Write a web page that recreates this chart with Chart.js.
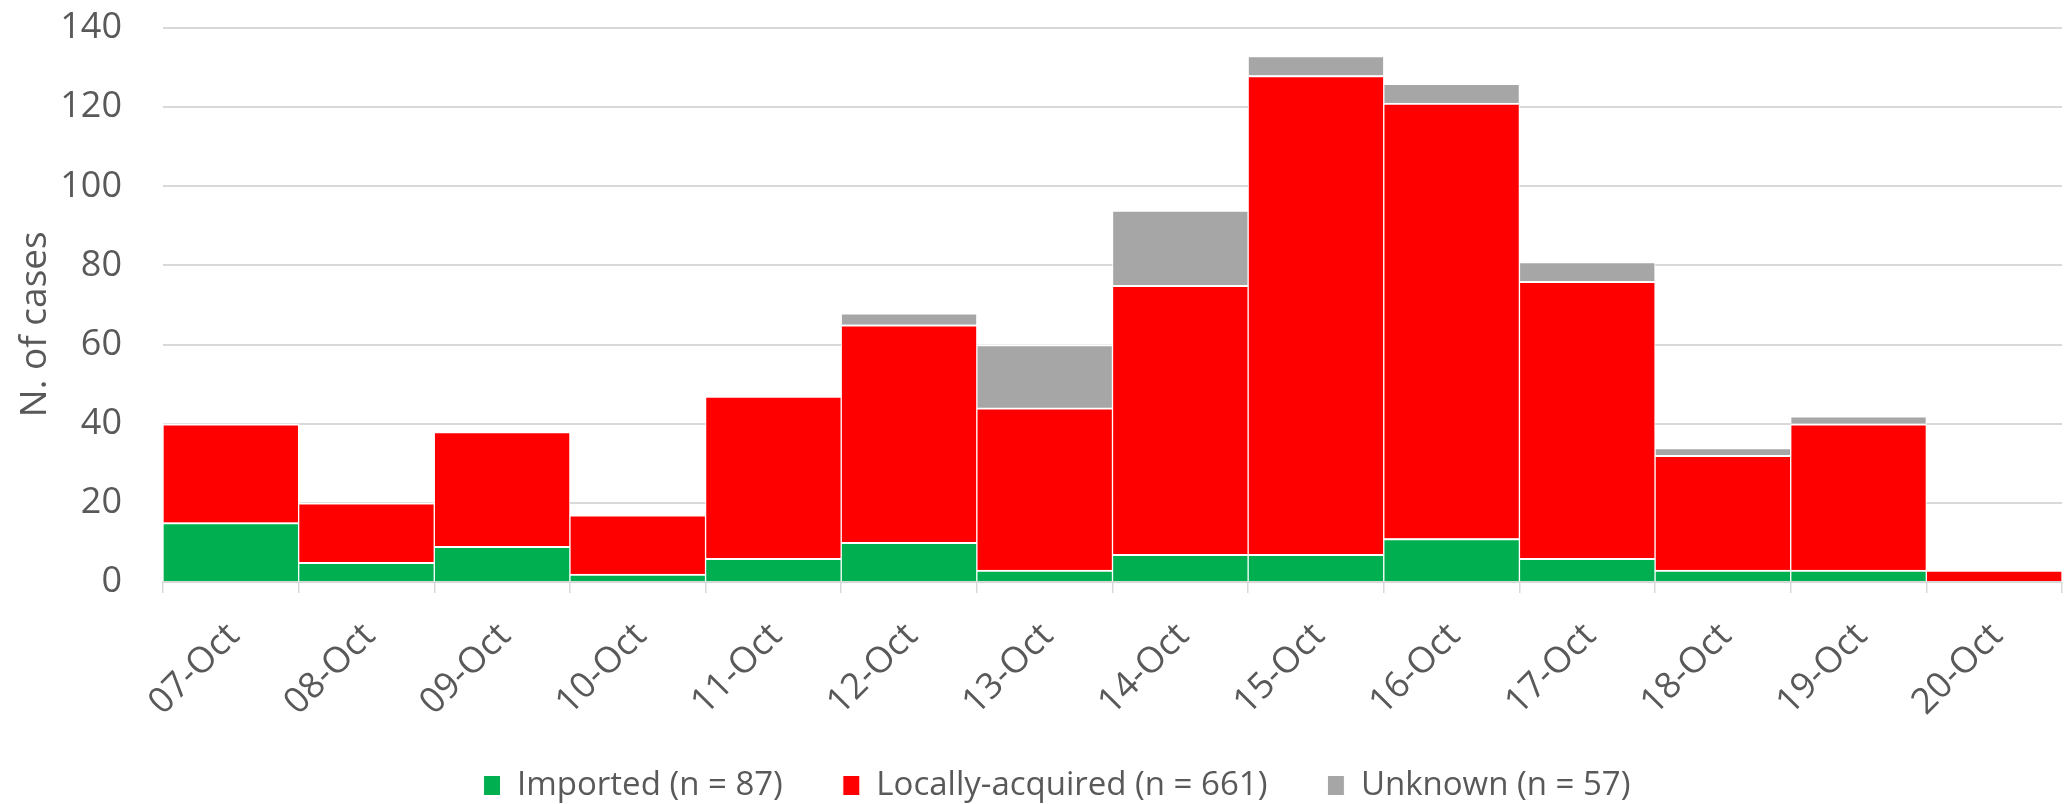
<!DOCTYPE html>
<html>
<head>
<meta charset="utf-8">
<script src="https://cdn.jsdelivr.net/npm/chart.js@4.4.1/dist/chart.umd.min.js"></script>
<style>
  html, body { margin: 0; padding: 0; background: #ffffff; }
  #wrap { width: 2065px; height: 804px; }
  canvas { display: block; }
</style>
</head>
<body>
<div id="wrap"><canvas id="chart" width="2065" height="804"></canvas></div>
<script>
// ---- data ----
const categories = ['07-Oct', '08-Oct', '09-Oct', '10-Oct', '11-Oct', '12-Oct', '13-Oct',
                    '14-Oct', '15-Oct', '16-Oct', '17-Oct', '18-Oct', '19-Oct', '20-Oct'];
const imported        = [15, 5, 9, 2, 6, 10, 3, 7, 7, 11, 6, 3, 3, 0];
const locallyAcquired = [25, 15, 29, 15, 41, 55, 41, 68, 121, 110, 70, 29, 37, 3];
const unknown         = [0, 0, 0, 0, 0, 3, 16, 19, 5, 5, 5, 2, 2, 0];
const seriesLabels = ['Imported (n = 87)', 'Locally-acquired (n = 661)', 'Unknown (n = 57)'];
const yTicks = [0, 20, 40, 60, 80, 100, 120, 140];
const yTitle = 'N. of cases';

const TEXT = '#595959';
const GRID = '#d9d9d9';
Chart.defaults.font.family = "'Open Sans', 'DejaVu Sans', sans-serif";
Chart.defaults.color = TEXT;

const barBorder = { top: 2, left: 1, right: 1, bottom: 0 };

// nudge the legend to the reference position and let the rotated x labels
// extend below the x-scale box (Chart.js clips labels to the scale box)
const layoutTweaks = {
  id: 'layoutTweaks',
  afterLayout(chart) {
    const l = chart.legend;
    if (l) {
      const dx = 26, dy = 8;
      l.left += dx; l.right += dx; l.top += dy; l.bottom += dy;
    }
    const x = chart.scales.x;
    if (x) { x.bottom = chart.height; }
  }
};

new Chart(document.getElementById('chart'), {
  type: 'bar',
  data: {
    labels: categories,
    datasets: [
      { label: seriesLabels[0], data: imported, backgroundColor: '#00b050',
        borderColor: '#ffffff', borderWidth: barBorder },
      { label: seriesLabels[1], data: locallyAcquired, backgroundColor: '#ff0000',
        borderColor: '#ffffff', borderWidth: barBorder },
      { label: seriesLabels[2], data: unknown, backgroundColor: '#a6a6a6',
        borderColor: '#ffffff', borderWidth: barBorder }
    ]
  },
  plugins: [layoutTweaks],
  options: {
    responsive: false,
    animation: false,
    devicePixelRatio: 1,
    layout: { padding: { top: 28, right: 3, bottom: 0, left: 0 } },
    datasets: { bar: { barPercentage: 1.0, categoryPercentage: 1.0 } },
    scales: {
      x: {
        stacked: true,
        grid: { display: true, drawOnChartArea: false, drawTicks: true, tickLength: 11,
                color: GRID, lineWidth: 1.5, offset: true },
        border: { display: true, color: GRID, width: 2 },
        ticks: { minRotation: 45, maxRotation: 45, autoSkip: false, padding: 22,
                 labelOffset: 3, color: TEXT, font: { size: 36 } },
        afterFit(scale) { scale.height = 119; }
      },
      y: {
        stacked: true,
        min: 0, max: 140,
        afterBuildTicks(scale) { scale.ticks = yTicks.map(v => ({ value: v })); },
        grid: { color: GRID, lineWidth: 2, drawTicks: true, tickLength: 38,
                tickColor: 'rgba(0,0,0,0)' },
        border: { display: false },
        ticks: { padding: 3, color: TEXT, font: { size: 36 } },
        title: { display: true, text: yTitle + '    ', color: TEXT,
                 font: { size: 37 }, padding: { top: 13, bottom: 0 } },
        afterFit(scale) { scale.width = 163; }
      }
    },
    plugins: {
      tooltip: { enabled: false },
      title: { display: false },
      legend: {
        display: true,
        position: 'bottom',
        align: 'center',
        labels: { color: TEXT, font: { size: 33 }, boxWidth: 17, boxHeight: 20, padding: 60 }
      }
    }
  }
});
</script>
</body>
</html>
